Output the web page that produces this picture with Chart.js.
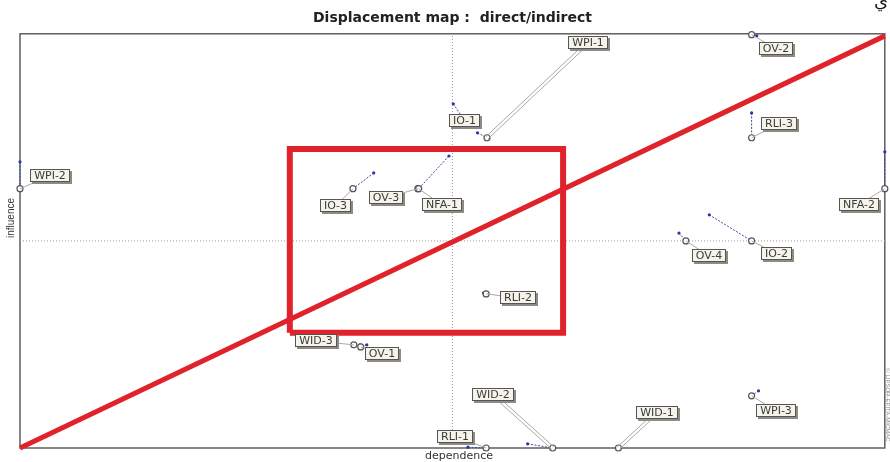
<!DOCTYPE html>
<html><head><meta charset="utf-8">
<script src="https://cdn.jsdelivr.net/npm/chart.js@4.4.0/dist/chart.umd.min.js"></script>
<style>html,body{margin:0;padding:0;background:#fff;}canvas{display:block;}</style>
</head><body>
<canvas id="c" width="890" height="462"></canvas>
<script>
// ---- data ----
const variables = ['WPI-1','IO-1','WPI-2','IO-3','OV-3','NFA-1','RLI-3','OV-2','NFA-2','OV-4','IO-2','RLI-2','WID-3','OV-1','WID-2','WID-1','RLI-1','WPI-3'];
const directX   = [52.9, 50.1,  0.0, 40.9, 46.0, 49.6, 84.6, 85.2, 100.0, 76.2, 79.7, 53.6, 39.3, 40.1, 58.7, 69.2, 51.8, 85.4];
const directY   = [76.1, 83.1, 69.1, 66.4, 62.6, 70.5, 80.9, 99.5,  71.5, 51.9, 56.3, 37.4, 24.9, 24.9,  1.0,  0.0,  0.2, 13.8];
const indirectX = [54.0, 51.2,  0.0, 38.5, 46.0, 46.1, 84.6, 84.6, 100.0, 77.0, 84.6, 53.9, 38.6, 39.4, 61.6, 69.2, 53.9, 84.6];
const indirectY = [74.9, 79.7, 62.6, 62.6, 62.6, 62.6, 74.9, 99.8,  62.6, 50.0, 50.0, 37.2, 24.9, 24.4,  0.0,  0.0,  0.0, 12.6];
const meanX = 50, meanY = 50;
const diagX = [0, 100], diagY = [0, 99.5];
const rectX = [31.2, 62.8], rectY = [27.8, 72.2];
const axisMin = 0, axisMax = 100;

// ---- layout (pixel offsets of label boxes from the indirect point) ----
const labelOffset = [[101,-95],[2,3],[30,-13],[-17,17],[-32,9],[23,16],[27,-14],[24,14],[-26,16],[23,15],[25,13],[32,4],[-38,-4],[21,7],[-60,-54],[39,-36],[-31,-12],[24,15]];
const doubleLeader = [0, 14, 15];

const RED = '#e0222b';
const pts = (xs, ys) => xs.map((x, i) => ({x, y: ys[i]}));
const dispData = [];
variables.forEach((v, i) => {
  dispData.push({x: directX[i], y: directY[i]}, {x: indirectX[i], y: indirectY[i]}, {x: NaN, y: NaN});
});
const rectData = [
  {x: rectX[0], y: rectY[0]}, {x: rectX[1], y: rectY[0]}, {x: rectX[1], y: rectY[1]},
  {x: rectX[0], y: rectY[1]}, {x: rectX[0], y: rectY[0]}
];

const overlay = {
  id: 'overlay',
  beforeDatasetsDraw(chart) {
    const {ctx, chartArea: a} = chart;
    ctx.save();
    ctx.strokeStyle = '#5f5f5f';
    ctx.lineWidth = 1.5;
    ctx.strokeRect(a.left, a.top, a.right - a.left, a.bottom - a.top);
    ctx.restore();
  },
  afterDatasetsDraw(chart) {
    const {ctx, chartArea: a, scales: {x, y}} = chart;
    ctx.save();
    ctx.font = '11px "DejaVu Sans"';
    ctx.textAlign = 'center';
    ctx.textBaseline = 'middle';
    variables.forEach((name, i) => {
      const px = x.getPixelForValue(indirectX[i]);
      const py = y.getPixelForValue(indirectY[i]);
      const cx = px + labelOffset[i][0];
      const cy = py + labelOffset[i][1];
      ctx.strokeStyle = '#a8a8a8';
      ctx.lineWidth = 1;
      const dbl = doubleLeader.includes(i);
      const dx = cx - px, dy = cy - py, L = Math.hypot(dx, dy) || 1;
      const nx = -dy / L * 1.5, ny = dx / L * 1.5;
      const offs = dbl ? [-1, 1] : [0];
      offs.forEach(o => {
        ctx.beginPath();
        ctx.moveTo(px + nx * o, py + ny * o);
        ctx.lineTo(cx + nx * o, cy + ny * o);
        ctx.stroke();
      });
      const w = Math.round(ctx.measureText(name).width + 8), h = 13;
      const x0 = Math.round(cx - w / 2), y0 = Math.round(cy - h / 2);
      ctx.fillStyle = '#8c8c84';
      ctx.fillRect(x0 + 2, y0 + 2, w, h);
      ctx.fillStyle = '#f6f4ea';
      ctx.fillRect(x0, y0, w, h);
      ctx.strokeStyle = '#555';
      ctx.strokeRect(x0 + 0.5, y0 + 0.5, w - 1, h - 1);
      ctx.fillStyle = '#3a3a3a';
      ctx.fillText(name, x0 + w / 2, y0 + h / 2 + 0.5);
    });
    ctx.fillStyle = '#333';
    ctx.font = '11px "DejaVu Sans"';
    ctx.fillText('dependence', 459, 456);
    ctx.save();
    ctx.translate(11, 218);
    ctx.rotate(-Math.PI / 2);
    ctx.font = '10px "Liberation Sans"';
    ctx.fillText('influence', 0, 0);
    ctx.restore();
    ctx.save();
    ctx.translate(887.5, 405);
    ctx.rotate(Math.PI / 2);
    ctx.font = '6px "Liberation Sans"';
    ctx.fillStyle = '#888';
    ctx.fillText('© LIPSOR-EPITA-MICMAC', 0, 0);
    ctx.restore();
    ctx.font = '18px "DejaVu Sans"';
    ctx.fillStyle = '#111';
    ctx.fillText('ي', 881, 2);
    ctx.restore();
  }
};

new Chart(document.getElementById('c'), {
  type: 'scatter',
  data: {
    datasets: [
      {type: 'line', data: pts(diagX, diagY), borderColor: RED, borderWidth: 5, pointRadius: 0, clip: false, order: 0},
      {type: 'line', data: rectData, borderColor: RED, borderWidth: 6, pointRadius: 0, borderJoinStyle: 'miter', clip: false, order: 1},
      {type: 'scatter', data: pts(indirectX, indirectY), pointRadius: 3, pointBorderWidth: 1.2, pointBorderColor: '#555', pointBackgroundColor: '#fff', clip: false, order: 2},
      {type: 'scatter', data: pts(directX, directY), pointRadius: 1.6, pointBorderWidth: 0, pointBackgroundColor: '#2a35a8', clip: false, order: 3},
      {type: 'line', data: dispData, borderColor: '#3b4a9c', borderWidth: 1, borderDash: [2, 1.5], pointRadius: 0, spanGaps: false, clip: false, order: 4},
      {type: 'line', data: [{x: meanX, y: axisMin}, {x: meanX, y: axisMax}], borderColor: '#9a9a9a', borderWidth: 1, borderDash: [1, 2], pointRadius: 0, clip: false, order: 5},
      {type: 'line', data: [{x: axisMin, y: meanY}, {x: axisMax, y: meanY}], borderColor: '#9a9a9a', borderWidth: 1, borderDash: [1, 2], pointRadius: 0, clip: false, order: 6}
    ]
  },
  options: {
    responsive: false,
    animation: false,
    devicePixelRatio: 1,
    layout: {padding: {left: 20, right: 5, top: 0, bottom: 14}},
    scales: {
      x: {type: 'linear', min: axisMin, max: axisMax, display: false},
      y: {type: 'linear', min: axisMin, max: axisMax, display: false}
    },
    plugins: {
      legend: {display: false},
      tooltip: {enabled: false},
      title: {display: true, text: 'Displacement map :  direct/indirect', color: '#222',
        font: {family: '"DejaVu Sans"', size: 14, weight: 'bold'}, padding: {top: 10, bottom: 7}}
    }
  },
  plugins: [overlay]
});
</script>
</body></html>
